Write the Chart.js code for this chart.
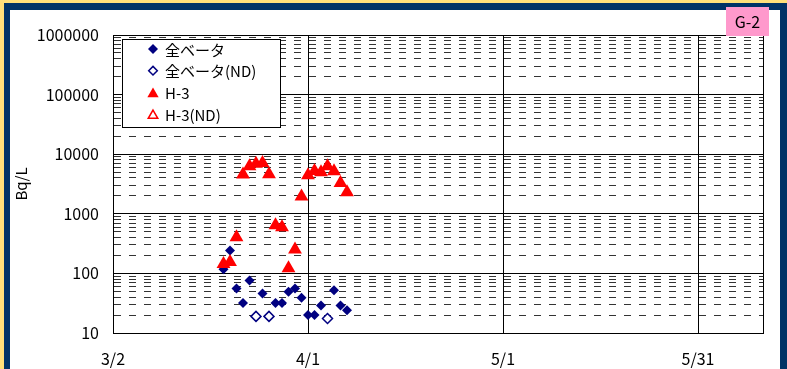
<!DOCTYPE html>
<html>
<head>
<meta charset="utf-8">
<script src="https://cdn.jsdelivr.net/npm/chart.js@4"></script>
<style>
  html, body { margin: 0; padding: 0; width: 787px; height: 369px; overflow: hidden; background: #ffe07a; }
  #frame { position: absolute; left: 4px; top: 3px; width: 783px; height: 366px; background: #003366; }
  #panel { position: absolute; left: 10px; top: 10px; width: 770px; height: 359px; background: #fff; }
  canvas { position: absolute; left: 0; top: 0; }
</style>
</head>
<body>
<div id="frame"></div>
<div id="panel"></div>
<canvas id="chart" width="787" height="369"></canvas>
<script>
// ── DATA ────────────────────────────────────────────────────────────────────
const seriesNames = ["全ベータ", "全ベータ(ND)", "H-3", "H-3(ND)"];

const betaDates  = ["3/19","3/20","3/21","3/22","3/23","3/25","3/27","3/28","3/29","3/30","3/31","4/1","4/2","4/3","4/5","4/6","4/7"];
const betaValues = [117, 243, 56, 32, 76, 46, 32, 32, 49, 56, 39, 20, 20, 29, 52, 29, 24];

const betaNdDates  = ["3/24","3/26","4/4"];
const betaNdValues = [19, 19, 17.5];

const h3Dates  = ["3/19","3/20","3/21","3/22","3/23","3/24","3/25","3/26","3/27","3/28","3/29","3/30","3/31","4/1","4/2","4/3","4/4","4/5","4/6","4/7"];
const h3Values = [144, 155, 404, 4560, 6270, 6900, 7100, 4600, 645, 597, 122, 252, 1950, 4420, 5210, 5000, 6270, 5200, 3300, 2290];

const h3NdDates  = [];
const h3NdValues = [];

const xTickLabels = ["3/2", "4/1", "5/1", "5/31"];
const xAxisEnd    = "6/10";
const yDecades    = [10, 100, 1000, 10000, 100000, 1000000];
const yTitle      = "Bq/L";
const chartTag    = "G-2";

// ── HELPERS ─────────────────────────────────────────────────────────────────
function dayOf(md) {
  const [m, d] = md.split("/").map(Number);
  return (Date.UTC(2011, m - 1, d) - Date.UTC(2011, 2, 2)) / 86400000;
}
const pts = (dates, vals) => dates.map((d, i) => ({ x: dayOf(d), y: vals[i] }));
const isDecade = v => Math.abs(Math.log10(v) - Math.round(Math.log10(v))) < 1e-9;

// every 1..9 step inside each decade, for the dashed minor lines
const yAllTicks = [];
yDecades.forEach((dec, i) => {
  if (i === yDecades.length - 1) { yAllTicks.push(dec); return; }
  for (let k = 1; k <= 9; k++) yAllTicks.push(dec * k);
});

const NAVY = "#000080";
const RED  = "#ff0000";
const FONT = "'Noto Sans CJK JP', 'Noto Sans', sans-serif";
Chart.defaults.font.family = FONT;
Chart.defaults.color = "#000";

// ── PLUGINS ─────────────────────────────────────────────────────────────────
function marker(ctx, style, x, y, r, fill, stroke) {
  ctx.beginPath();
  if (style === "diamond") {
    ctx.moveTo(x, y - r); ctx.lineTo(x + r, y); ctx.lineTo(x, y + r); ctx.lineTo(x - r, y);
  } else {
    const w = r * Math.sqrt(3) / 2;
    ctx.moveTo(x, y - r); ctx.lineTo(x + w, y + r / 2); ctx.lineTo(x - w, y + r / 2);
  }
  ctx.closePath();
  ctx.fillStyle = fill;
  ctx.fill();
  if (stroke) { ctx.lineWidth = 1.5; ctx.strokeStyle = stroke; ctx.stroke(); }
}

const framePlugin = {
  id: "frame",
  beforeDatasetsDraw(chart) {
    const { ctx, chartArea: a } = chart;
    ctx.save();
    ctx.strokeStyle = "#000";
    ctx.lineWidth = 1;
    ctx.strokeRect(Math.round(a.left) + 0.5, Math.round(a.top) + 0.5,
                   Math.round(a.right - a.left), Math.round(a.bottom - a.top));
    ctx.restore();
  }
};

const legendPlugin = {
  id: "boxLegend",
  afterDatasetsDraw(chart) {
    const ctx = chart.ctx;
    ctx.save();
    ctx.fillStyle = "#fff";
    ctx.fillRect(122.5, 39.5, 158, 88);
    ctx.strokeStyle = "#000";
    ctx.lineWidth = 1;
    ctx.strokeRect(122.5, 39.5, 158, 88);

    const rows = [
      { style: "diamond",  fill: NAVY,   stroke: null },
      { style: "diamond",  fill: "#fff", stroke: NAVY },
      { style: "triangle", fill: RED,    stroke: null },
      { style: "triangle", fill: "#fff", stroke: RED  },
    ];
    ctx.font = "15px " + FONT;
    ctx.textBaseline = "middle";
    ctx.textAlign = "left";
    rows.forEach((r, i) => {
      const y = 49 + i * 21.7;
      if (r.style === "diamond") marker(ctx, r.style, 153, y, r.stroke ? 4.3 : 5, r.fill, r.stroke);
      else marker(ctx, r.style, 153, y + 1.5, r.stroke ? 5.5 : 6.5, r.fill, r.stroke);
      ctx.fillStyle = "#000";
      ctx.fillText(seriesNames[i], 165, y + 1);
    });
    ctx.restore();
  },
  afterDraw(chart) {
    const ctx = chart.ctx;
    ctx.save();
    ctx.fillStyle = "#ff99cc";
    ctx.fillRect(726, 7, 43, 29);
    ctx.fillStyle = "#000";
    ctx.font = "16px " + FONT;
    ctx.textAlign = "center";
    ctx.textBaseline = "middle";
    ctx.fillText(chartTag, 747.5, 22);
    ctx.restore();
  }
};

// ── CHART ───────────────────────────────────────────────────────────────────
new Chart(document.getElementById("chart"), {
  type: "scatter",
  data: {
    datasets: [
      { label: seriesNames[2], data: pts(h3Dates, h3Values), pointStyle: "triangle", pointRadius: 8,
        backgroundColor: RED, borderColor: RED, borderWidth: 0, order: 0 },
      { label: seriesNames[3], data: pts(h3NdDates, h3NdValues), pointStyle: "triangle", pointRadius: 7,
        backgroundColor: "#fff", borderColor: RED, borderWidth: 1.5, order: 1 },
      { label: seriesNames[0], data: pts(betaDates, betaValues), pointStyle: "rectRot", pointRadius: 5,
        backgroundColor: NAVY, borderColor: NAVY, borderWidth: 0, order: 2 },
      { label: seriesNames[1], data: pts(betaNdDates, betaNdValues), pointStyle: "rectRot", pointRadius: 5,
        backgroundColor: "#fff", borderColor: NAVY, borderWidth: 1.5, order: 3 },
    ]
  },
  options: {
    responsive: false,
    animation: false,
    layout: { padding: { left: 0, top: 35, right: 24, bottom: 0 } },
    plugins: { legend: { display: false }, tooltip: { enabled: false } },
    scales: {
      x: {
        type: "linear",
        min: 0,
        max: dayOf(xAxisEnd),
        afterBuildTicks: s => { s.ticks = xTickLabels.map(l => ({ value: dayOf(l) })); },
        afterFit: s => { s.height = 36; },
        ticks: { autoSkip: false, maxRotation: 0, padding: 16, font: { size: 16 },
                 callback: (v, i) => xTickLabels[i] },
        grid: { color: "#000", lineWidth: 1, drawTicks: false },
        border: { color: "#000", width: 1 }
      },
      y: {
        type: "logarithmic",
        min: yDecades[0],
        max: yDecades[yDecades.length - 1],
        afterBuildTicks: s => { s.ticks = yAllTicks.map(v => ({ value: v })); },
        afterFit: s => { s.width = 113; },
        ticks: { autoSkip: false, padding: 14, font: { size: 16 },
                 callback: v => isDecade(v) ? String(v) : "" },
        grid: { drawTicks: false, lineWidth: 1,
                color: c => (c.tick && isDecade(c.tick.value)) ? "#000" : "#333" },
        border: { color: "#000", width: 1,
                  dash: c => (c.tick && !isDecade(c.tick.value)) ? [7, 8] : [] },
        title: { display: true, text: yTitle, font: { size: 15 }, padding: { top: 12, bottom: 0 } }
      }
    }
  },
  plugins: [framePlugin, legendPlugin]
});
</script>
</body>
</html>
